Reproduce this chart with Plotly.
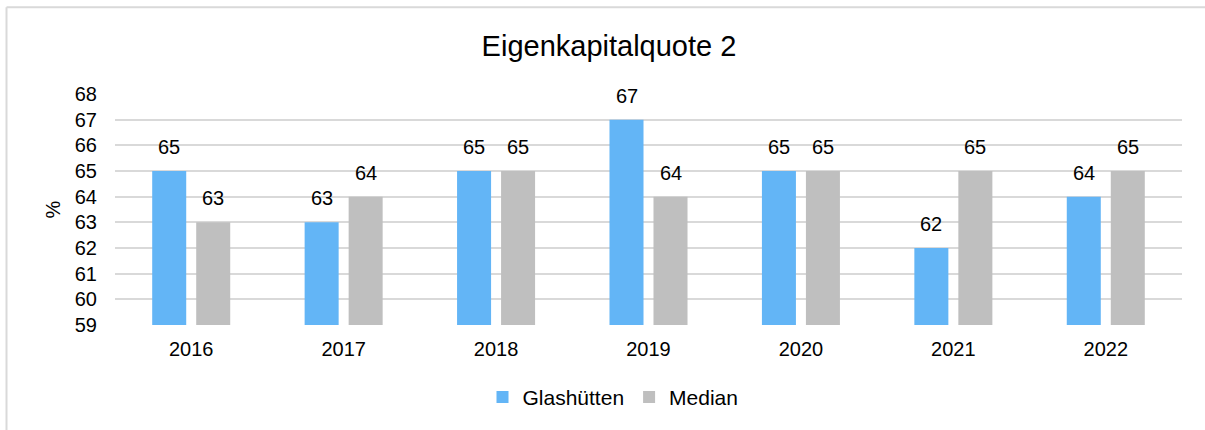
import plotly.graph_objects as go

years = ["2016", "2017", "2018", "2019", "2020", "2021", "2022"]
glashuetten = [65, 63, 65, 67, 65, 62, 64]
median = [63, 64, 65, 64, 65, 65, 65]
series_names = ["Glashütten", "Median"]
series_colors = ["#63B5F6", "#BFBFBF"]
y_ticks = list(range(59, 69))

FONT = "Liberation Sans, Arial, sans-serif"
W, H = 1205, 430
M_L, M_R, M_T, M_B = 115, 23, 94, 103
plot_w = W - M_L - M_R
plot_h = H - M_T - M_B

fig = go.Figure()
for name, vals, col in zip(series_names, [glashuetten, median], series_colors):
    fig.add_trace(go.Bar(x=years, y=vals, name=name, marker=dict(color=col, line=dict(width=0))))

# value labels above each bar (category index positions on the x axis)
for idx, vals in enumerate([glashuetten, median]):
    shift = -22 if idx == 0 else 22
    for i, v in enumerate(vals):
        fig.add_annotation(x=i, y=v, text=str(v), showarrow=False, xshift=shift, yshift=24,
                           yanchor="middle", font=dict(size=20, color="#000000", family=FONT))

# chart frame lines (top and left)
px = lambda p: (p - M_L) / plot_w
py = lambda p: 1 + (M_T - p) / plot_h
fig.add_shape(type="line", xref="paper", yref="paper", x0=px(6.5), x1=px(W + 5), y0=py(6.5), y1=py(6.5),
              line=dict(color="#D9D9D9", width=2))
fig.add_shape(type="line", xref="paper", yref="paper", x0=px(6.5), x1=px(6.5), y0=py(6.5), y1=py(H + 5),
              line=dict(color="#D9D9D9", width=2))

fig.update_layout(
    width=W, height=H,
    margin=dict(l=M_L, r=M_R, t=M_T, b=M_B),
    paper_bgcolor="white", plot_bgcolor="white",
    font=dict(family=FONT, color="#000000", size=20),
    title=dict(text="Eigenkapitalquote 2", x=609 / W, xanchor="center", y=1 - 46 / H, yanchor="middle",
               font=dict(size=29, family=FONT, color="#000000")),
    barmode="group", bargap=0.4226, bargroupgap=0.227,
    showlegend=True,
    legend=dict(orientation="h", x=px(613), xanchor="center", y=-(400 - (H - M_B)) / plot_h, yanchor="middle",
                font=dict(size=21, family=FONT), itemwidth=30, traceorder="normal"),
    xaxis=dict(type="category", range=[-0.5, len(years) - 0.5], showgrid=False, showline=False, ticks="",
               ticklabelstandoff=10, tickfont=dict(size=20, family=FONT)),
    yaxis=dict(range=[59, 68], tickvals=y_ticks, showgrid=True, gridcolor="#D9D9D9", gridwidth=1.5,
               zeroline=False, showline=False, ticks="", ticklabelstandoff=17,
               tickfont=dict(size=20, family=FONT),
               title=dict(text="%", standoff=8, font=dict(size=20, family=FONT))),
)

fig.write_html("out.html")
